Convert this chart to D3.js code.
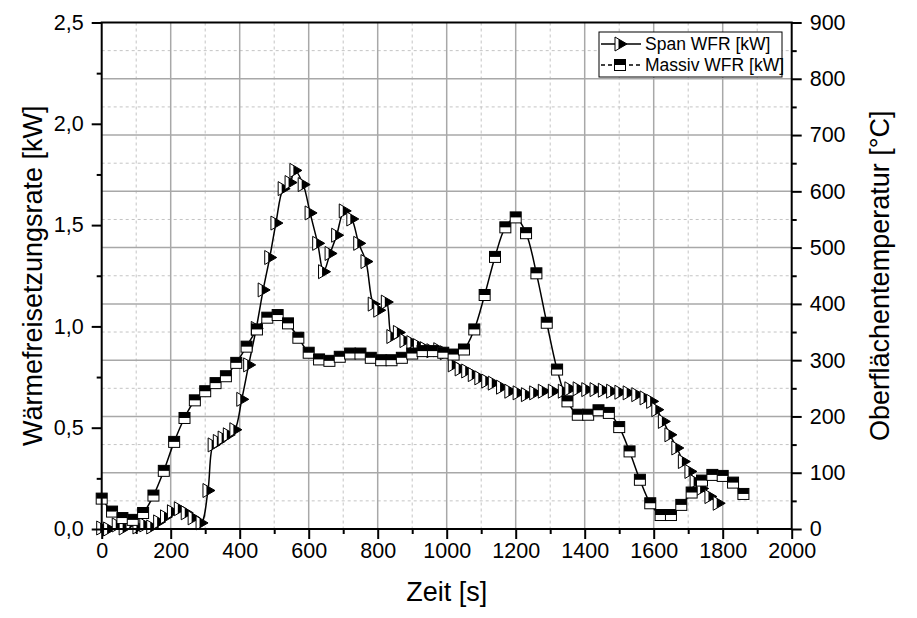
<!DOCTYPE html>
<html>
<head>
<meta charset="utf-8">
<script src="https://cdn.jsdelivr.net/npm/d3@7"></script>
<style>
  body { margin: 0; background: #fff; }
  text { font-family: Arial, "Liberation Sans", sans-serif; fill: #000; }
</style>
</head>
<body>
<div id="wrapper"></div>
<script>
// Massiv WFR [kW] (squares)
const massivTime = [0, 30, 60, 90, 120, 150, 180, 210, 240, 270, 300, 330, 360, 390, 420, 450,
  480, 510, 540, 570, 600, 630, 660, 690, 720, 750, 780, 810, 840, 870, 900, 930, 960, 990,
  1020, 1050, 1080, 1110, 1140, 1170, 1200, 1230, 1260, 1290, 1320, 1350, 1380, 1410, 1440,
  1470, 1500, 1530, 1560, 1590, 1620, 1650, 1680, 1710, 1740, 1770, 1800, 1830, 1860]
const massivValue = [0.15, 0.086, 0.054, 0.045, 0.079, 0.165, 0.287, 0.43, 0.548, 0.635, 0.68,
  0.72, 0.754, 0.82, 0.90, 0.985, 1.043, 1.056, 1.015, 0.944, 0.87, 0.837, 0.83, 0.85, 0.866,
  0.866, 0.845, 0.833, 0.833, 0.845, 0.866, 0.878, 0.878, 0.87, 0.861, 0.886, 0.985, 1.155,
  1.343, 1.489, 1.538, 1.46, 1.262, 1.018, 0.787, 0.63, 0.564, 0.564, 0.586, 0.573, 0.503,
  0.383, 0.243, 0.127, 0.069, 0.069, 0.119, 0.18, 0.239, 0.267, 0.262, 0.229, 0.173]

// Span WFR [kW] (triangles)
const spanTime = [0, 20, 45, 65, 85, 105, 125, 145, 165, 185, 205, 225, 245, 265, 288, 308,
  323, 338, 352, 367, 386, 406, 426, 448, 468, 487, 505, 526, 546, 560, 584, 604, 626, 643,
  662, 681, 703, 725, 745, 766, 787, 803, 825, 841, 860, 879, 899, 918, 938, 957, 977, 996,
  1019, 1039, 1058, 1077, 1096, 1116, 1135, 1159, 1183, 1207, 1231, 1255, 1280, 1309, 1338,
  1357, 1381, 1406, 1430, 1454, 1478, 1502, 1526, 1551, 1575, 1594, 1609, 1628, 1647, 1667,
  1686, 1705, 1720, 1739, 1763, 1787]
const spanValue = [0.005, 0.0, 0.02, 0.005, 0.03, 0.01, 0.02, 0.01, 0.035, 0.06, 0.085, 0.10,
  0.08, 0.055, 0.03, 0.19, 0.415, 0.432, 0.449, 0.465, 0.49, 0.64, 0.81, 0.99, 1.18, 1.34,
  1.51, 1.68, 1.71, 1.77, 1.70, 1.56, 1.41, 1.27, 1.36, 1.45, 1.57, 1.53, 1.41, 1.32, 1.11,
  1.08, 1.12, 0.95, 0.97, 0.93, 0.92, 0.905, 0.89, 0.88, 0.885, 0.87, 0.81, 0.79, 0.78,
  0.762, 0.746, 0.73, 0.72, 0.70, 0.68, 0.672, 0.663, 0.672, 0.68, 0.68, 0.68, 0.692, 0.692,
  0.688, 0.688, 0.685, 0.68, 0.675, 0.672, 0.663, 0.647, 0.63, 0.589, 0.531, 0.465, 0.40,
  0.333, 0.284, 0.234, 0.20, 0.16, 0.127]

const xTicks = [0, 200, 400, 600, 800, 1000, 1200, 1400, 1600, 1800, 2000]
const leftTicks = [0, 0.5, 1.0, 1.5, 2.0, 2.5]
const rightTicks = [0, 100, 200, 300, 400, 500, 600, 700, 800, 900]
const legendLabels = ["Span WFR [kW]", "Massiv WFR [kW]"]

const massivData = massivTime.map((t, i) => ({ t, v: massivValue[i] }))
const spanData = spanTime.map((t, i) => ({ t, v: spanValue[i] }))

// chart dimensions
let dimensions = {
  width: 917,
  height: 618,
  margin: { top: 22.5, right: 125.3, bottom: 89, left: 101.7 }
}
dimensions.boundedWidth = dimensions.width - dimensions.margin.left - dimensions.margin.right
dimensions.boundedHeight = dimensions.height - dimensions.margin.top - dimensions.margin.bottom

const wrapper = d3.select("#wrapper")
  .append("svg")
    .attr("width", dimensions.width)
    .attr("height", dimensions.height)

const bounds = wrapper.append("g")
  .attr("transform", `translate(${dimensions.margin.left},${dimensions.margin.top})`)

// scales
const xScale = d3.scaleLinear()
  .domain([0, 2000])
  .range([0, dimensions.boundedWidth])
const yScale = d3.scaleLinear()
  .domain([0, 2.5])
  .range([dimensions.boundedHeight, 0])
const yRightScale = d3.scaleLinear()
  .domain([0, 900])
  .range([dimensions.boundedHeight, 0])

const deLocale = d3.formatLocale({ decimal: ",", thousands: ".", grouping: [3], currency: ["", " €"] })
const fmt1 = deLocale.format(".1f")

const xMinor = d3.range(100, 2000, 200)
const leftMinor = [0.25, 0.75, 1.25, 1.75, 2.25]
const rightMinor = d3.range(50, 900, 100)

// grid
const grid = bounds.append("g")
grid.selectAll(".vminor")
  .data(xMinor)
  .join("line")
    .attr("x1", d => xScale(d)).attr("x2", d => xScale(d))
    .attr("y1", 0).attr("y2", dimensions.boundedHeight)
    .attr("stroke", "#c4c4c4").attr("stroke-width", 1)
    .attr("stroke-dasharray", "3,3")
grid.selectAll(".hminor")
  .data(rightMinor)
  .join("line")
    .attr("x1", 0).attr("x2", dimensions.boundedWidth)
    .attr("y1", d => yRightScale(d)).attr("y2", d => yRightScale(d))
    .attr("stroke", "#c4c4c4").attr("stroke-width", 1)
    .attr("stroke-dasharray", "3,3")
grid.selectAll(".vmajor")
  .data(xTicks.slice(1, -1))
  .join("line")
    .attr("x1", d => xScale(d)).attr("x2", d => xScale(d))
    .attr("y1", 0).attr("y2", dimensions.boundedHeight)
    .attr("stroke", "#a8a8a8").attr("stroke-width", 1.5)
grid.selectAll(".hmajor")
  .data(rightTicks.slice(1, -1))
  .join("line")
    .attr("x1", 0).attr("x2", dimensions.boundedWidth)
    .attr("y1", d => yRightScale(d)).attr("y2", d => yRightScale(d))
    .attr("stroke", "#a8a8a8").attr("stroke-width", 1.5)

// lines
const lineGenerator = d3.line()
  .x(d => xScale(d.t))
  .y(d => yScale(d.v))
  .curve(d3.curveCatmullRom.alpha(0.5))

bounds.append("path")
  .datum(spanData)
  .attr("d", lineGenerator)
  .attr("fill", "none").attr("stroke", "#000").attr("stroke-width", 1.5)

bounds.append("path")
  .datum(massivData)
  .attr("d", lineGenerator)
  .attr("fill", "none").attr("stroke", "#000").attr("stroke-width", 1.5)

// markers
const drawTriangle = sel => {
  sel.append("path")
    .attr("d", "M-5,-7L7,0L-5,7Z")
    .attr("fill", "#fff").attr("stroke", "#000").attr("stroke-width", 1)
  sel.append("path")
    .attr("d", "M-1.5,-5L7,0L-1.5,5Z")
    .attr("fill", "#000")
}
const drawSquare = sel => {
  sel.append("rect")
    .attr("x", -5.5).attr("y", -5.5).attr("width", 11).attr("height", 11)
    .attr("fill", "#fff").attr("stroke", "#000").attr("stroke-width", 1)
  sel.append("rect")
    .attr("x", -5.5).attr("y", -5.5).attr("width", 11).attr("height", 5.5)
    .attr("fill", "#000")
}

bounds.append("g")
  .selectAll("g")
  .data(spanData)
  .join("g")
    .attr("transform", d => `translate(${xScale(d.t)},${yScale(d.v)})`)
    .call(drawTriangle)

bounds.append("g")
  .selectAll("g")
  .data(massivData)
  .join("g")
    .attr("transform", d => `translate(${xScale(d.t)},${yScale(d.v)})`)
    .call(drawSquare)

// axes
const styleAxis = g => {
  g.select(".domain").remove()
  g.selectAll(".tick line").attr("stroke", "#000").attr("stroke-width", 2)
  g.selectAll(".tick text").style("font-size", "21.5px").attr("fill", "#000")
}

bounds.append("g")
  .attr("transform", `translate(0,${dimensions.boundedHeight})`)
  .call(d3.axisBottom(xScale).tickValues(xTicks).tickSize(10).tickPadding(4).tickFormat(d3.format("d")))
  .call(styleAxis)
bounds.append("g")
  .attr("transform", `translate(0,${dimensions.boundedHeight})`)
  .call(d3.axisBottom(xScale).tickValues(xMinor).tickSize(5).tickFormat(""))
  .call(styleAxis)

bounds.append("g")
  .call(d3.axisLeft(yScale).tickValues(leftTicks).tickSize(10).tickPadding(8).tickFormat(fmt1))
  .call(styleAxis)
bounds.append("g")
  .call(d3.axisLeft(yScale).tickValues(leftMinor).tickSize(5).tickFormat(""))
  .call(styleAxis)

bounds.append("g")
  .attr("transform", `translate(${dimensions.boundedWidth},0)`)
  .call(d3.axisRight(yRightScale).tickValues(rightTicks).tickSize(10).tickPadding(8).tickFormat(d3.format("d")))
  .call(styleAxis)
bounds.append("g")
  .attr("transform", `translate(${dimensions.boundedWidth},0)`)
  .call(d3.axisRight(yRightScale).tickValues(rightMinor).tickSize(5).tickFormat(""))
  .call(styleAxis)

// frame
bounds.append("rect")
  .attr("width", dimensions.boundedWidth)
  .attr("height", dimensions.boundedHeight)
  .attr("fill", "none").attr("stroke", "#000").attr("stroke-width", 2)

// axis labels
wrapper.append("text")
  .attr("x", dimensions.margin.left + dimensions.boundedWidth / 2)
  .attr("y", 601)
  .attr("text-anchor", "middle")
  .style("font-size", "27px")
  .text("Zeit [s]")

wrapper.append("text")
  .attr("transform", `translate(42,${dimensions.margin.top + dimensions.boundedHeight / 2}) rotate(-90)`)
  .attr("text-anchor", "middle")
  .style("font-size", "27px")
  .text("Wärmefreisetzungsrate [kW]")

wrapper.append("text")
  .attr("transform", `translate(889,${dimensions.margin.top + dimensions.boundedHeight / 2}) rotate(-90)`)
  .attr("text-anchor", "middle")
  .style("font-size", "27px")
  .text("Oberflächentemperatur [°C]")

// legend
const legend = wrapper.append("g")
  .attr("transform", "translate(599,32)")
legend.append("rect")
  .attr("width", 183).attr("height", 45)
  .attr("fill", "#fff").attr("stroke", "#000").attr("stroke-width", 1)

const legendRows = legend.selectAll(".row")
  .data(legendLabels)
  .join("g")
    .attr("transform", (d, i) => `translate(0,${12 + i * 21})`)
legendRows.append("line")
  .attr("x1", 2).attr("x2", 42)
  .attr("stroke", "#000").attr("stroke-width", 1.5)
  .attr("stroke-dasharray", (d, i) => i === 0 ? null : "4,3")
legendRows.filter((d, i) => i === 0).append("g")
  .attr("transform", "translate(21,0)")
  .call(drawTriangle)
legendRows.filter((d, i) => i === 1).append("g")
  .attr("transform", "translate(21,0)")
  .call(drawSquare)
legendRows.append("text")
  .attr("x", 46)
  .attr("dy", "0.35em")
  .style("font-size", "17.5px")
  .text(d => d)
</script>
</body>
</html>
